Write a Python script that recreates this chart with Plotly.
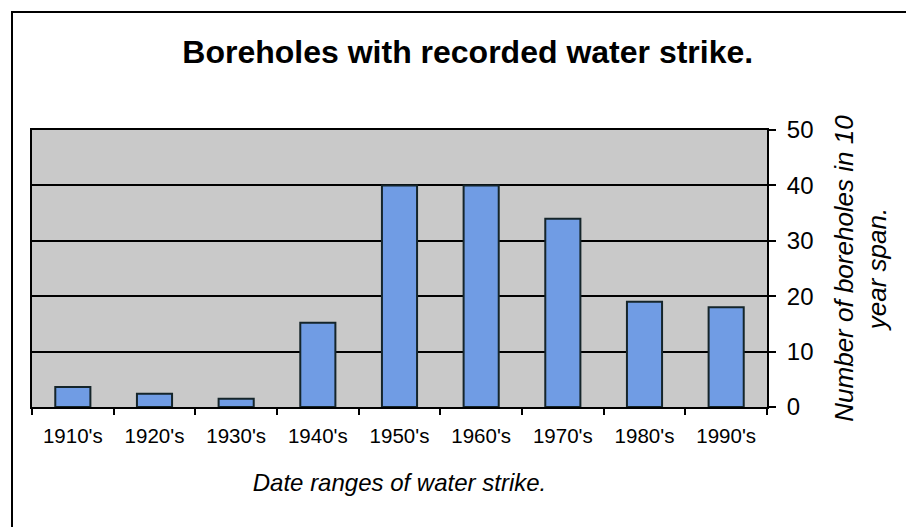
import plotly.graph_objects as go

categories = ["1910's", "1920's", "1930's", "1940's", "1950's", "1960's", "1970's", "1980's", "1990's"]
boreholes = [3.6, 2.4, 1.5, 15.2, 40, 40, 34, 19, 18]
y_ticks = [0, 10, 20, 30, 40, 50]

FONT = "Liberation Sans, Arial, sans-serif"

fig = go.Figure(go.Bar(
    x=categories, y=boreholes,
    marker=dict(color="#709ce4", line=dict(color="#15252a", width=2)),
))

fig.update_layout(
    width=914, height=527,
    margin=dict(l=24, r=155, t=122, b=128),
    paper_bgcolor="white", plot_bgcolor="#c9c9c9",
    bargap=0.57, showlegend=False,
    font=dict(family=FONT, color="black"),
    title=dict(text="<b>Boreholes with recorded water strike.</b>",
               x=0.503, xanchor="center", y=0.9165, yanchor="middle",
               font=dict(size=32, family=FONT, color="black")),
)

fig.update_xaxes(
    type="category", showline=True, linecolor="black", linewidth=2, mirror=True,
    ticks="outside", tickson="boundaries", ticklen=6, tickwidth=1.5, tickcolor="black",
    ticklabelstandoff=9,
    showgrid=False, tickfont=dict(size=20.5),
    title=dict(text="<i>Date ranges of water strike.</i>", font=dict(size=24), standoff=29),
)

fig.update_yaxes(
    side="right", range=[0, 50], tickvals=y_ticks,
    showline=True, linecolor="black", linewidth=2, mirror=True,
    ticks="outside", ticklen=7, tickwidth=1.5, tickcolor="black",
    ticklabelstandoff=6,
    showgrid=True, gridcolor="black", gridwidth=1.5, zeroline=False,
    tickfont=dict(size=24),
    title=dict(text="<i>Number of boreholes in 10<br>year span.</i>", font=dict(size=26), standoff=22),
)

# outer frame of the original chart
fig.add_shape(type="rect", xref="paper", yref="paper",
              x0=-20/735, x1=1.25, y0=-0.6, y1=(407-12)/277,
              line=dict(color="black", width=2), layer="below")

fig.write_html("out.html")
